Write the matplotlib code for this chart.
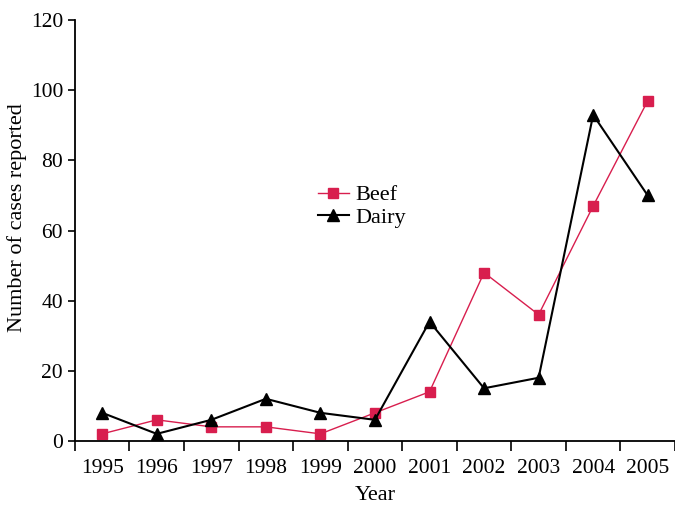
import numpy as np
import matplotlib.pyplot as plt

years = ['1995', '1996', '1997', '1998', '1999', '2000',
         '2001', '2002', '2003', '2004', '2005']
beef = [2, 6, 4, 4, 2, 8, 14, 48, 36, 67, 97]
dairy = [8, 2, 6, 12, 8, 6, 34, 15, 18, 93, 70]

plt.rcParams['font.family'] = ['Liberation Serif', 'DejaVu Serif']

fig = plt.figure(figsize=(6.75, 5.05), dpi=100)
ax = fig.add_axes([0.111, 0.127, 0.889, 0.833])

x = np.arange(len(years))
ax.plot(x, beef, color='#d81e4e', lw=1.0, marker='s', ms=7, mec='#d81e4e', label='Beef')
ax.plot(x, dairy, color='black', lw=1.5, marker='^', ms=8, label='Dairy')

ax.set_xlim(-0.5, len(years) - 0.5)
ax.set_ylim(0, 120)
ax.set_yticks(range(0, 121, 20))

# year labels sit between the tick marks
ax.set_xticks(x)
ax.set_xticklabels(years)
ax.set_xticks(np.arange(-0.5, len(years), 1.0), minor=True)
ax.tick_params(axis='x', which='major', length=0, pad=13, labelsize=15.5)
ax.tick_params(axis='x', which='minor', length=7, width=1.2, direction='out')
ax.tick_params(axis='y', length=5, width=1.2, direction='out', labelsize=15.5)

for side in ['top', 'right']:
    ax.spines[side].set_visible(False)
ax.spines['left'].set_linewidth(1.3)
ax.spines['bottom'].set_linewidth(1.3)

ax.set_xlabel('Year', fontsize=16, labelpad=6)
ax.set_ylabel('Number of cases reported', fontsize=16, va='center')
ax.yaxis.set_label_coords(-0.097, 0.53)

ax.legend(loc='upper left', bbox_to_anchor=(0.386, 0.635), frameon=False,
          fontsize=16, handlelength=1.4, handletextpad=0.3, labelspacing=0.1,
          borderpad=0)

fig.savefig('out.png', dpi=100)
